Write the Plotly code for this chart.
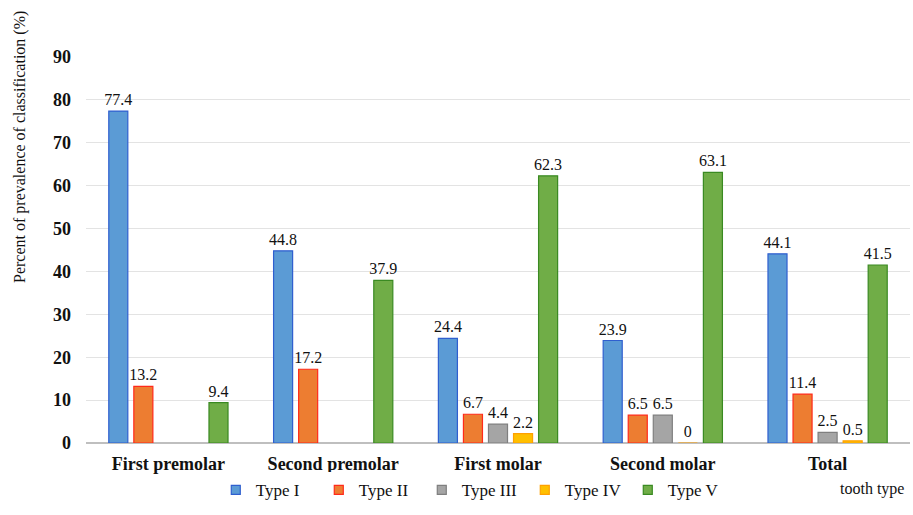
import plotly.graph_objects as go

categories = ["First premolar", "Second premolar", "First molar", "Second molar", "Total"]
series_names = ["Type I", "Type II", "Type III", "Type IV", "Type V"]
type1 = [77.4, 44.8, 24.4, 23.9, 44.1]
type2 = [13.2, 17.2, 6.7, 6.5, 11.4]
type3 = [None, None, 4.4, 6.5, 2.5]
type4 = [None, None, 2.2, 0, 0.5]
type5 = [9.4, 37.9, 62.3, 63.1, 41.5]
y_ticks = [0, 10, 20, 30, 40, 50, 60, 70, 80, 90]

series = [type1, type2, type3, type4, type5]
fills = ["#5b9bd5", "#ed7d31", "#a5a5a5", "#ffc000", "#70ad47"]
edges = ["#2f5fcf", "#ff2a1a", "#7f7f7f", "#ffa000", "#3a8a22"]

SERIF = "Liberation Serif"

fig = go.Figure()
for name, vals, fc, ec in zip(series_names, series, fills, edges):
    fig.add_trace(go.Bar(
        x=categories, y=vals, name=name, showlegend=False,
        marker=dict(color=fc, line=dict(color=ec, width=1.2)),
        text=[("" if v is None else f"{v:g}") for v in vals],
        textposition="outside",
        constraintext="none",
        textfont=dict(family=SERIF, size=16, color="#111"),
        cliponaxis=False,
    ))
# legend entries with small square markers
for name, fc, ec in zip(series_names, fills, edges):
    fig.add_trace(go.Scatter(
        x=[None], y=[None], mode="markers", name=name,
        marker=dict(symbol="square", size=9, color=fc, line=dict(color=ec, width=1.2)),
    ))

fig.update_layout(
    width=913, height=515,
    barmode="group", bargap=0.24, bargroupgap=0.24,
    plot_bgcolor="white", paper_bgcolor="white",
    margin=dict(l=86, r=3, t=57, b=72),
    font=dict(family=SERIF, color="#111"),
    xaxis=dict(
        tickfont=dict(family=SERIF, size=18, color="#111"),
        showline=False, ticks="",
        tickvals=categories,
        ticktext=[f"<b>{c}</b>" for c in categories],
        ticklabelstandoff=8,
        automargin=False,
    ),
    yaxis=dict(
        range=[0, 90], tickvals=y_ticks,
        ticktext=[f"<b>{t}</b>" for t in y_ticks],
        tickfont=dict(family=SERIF, size=18, color="#111"),
        gridcolor="#e3e3e3", gridwidth=1,
        zeroline=True, zerolinecolor="#bfbfbf", zerolinewidth=1.5,
        ticklabelstandoff=14,
        automargin=False,
    ),
    legend=dict(
        orientation="h", x=0.47, xanchor="center",
        yref="container", y=0.048, yanchor="middle",
        font=dict(family=SERIF, size=17, color="#111"),
        entrywidth=58, entrywidthmode="pixels",
        itemwidth=30, traceorder="normal",
    ),
    showlegend=True,
)
fig.add_annotation(
    text="Percent of prevalence of classification (%)",
    x=-(86 - 20) / 824, xref="paper", xanchor="center",
    y=(443 - 147) / 386, yref="paper", yanchor="middle",
    textangle=-90, showarrow=False,
    font=dict(family=SERIF, size=16, color="#111"),
)
fig.add_annotation(
    text="tooth type", x=(906 - 86) / 824, xref="paper", xanchor="right",
    y=-(489 - 443) / 386, yref="paper", yanchor="middle", showarrow=False,
    font=dict(family=SERIF, size=16, color="#111"),
)

fig.write_html("out.html", config={"displayModeBar": False},
               post_script="document.body.style.margin='0';")
